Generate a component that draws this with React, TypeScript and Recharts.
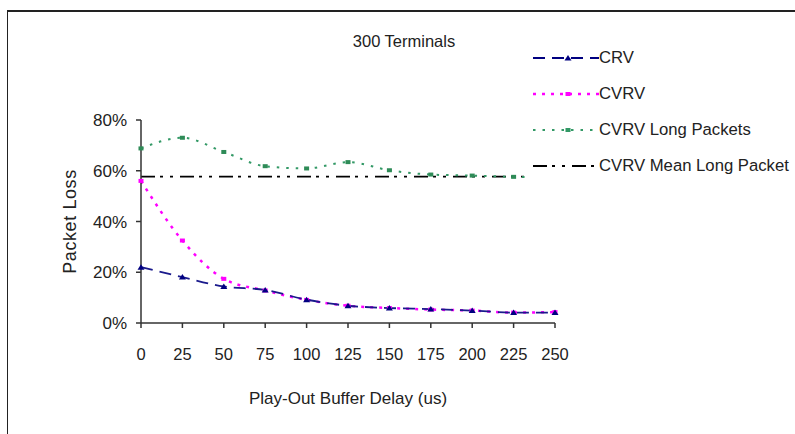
import React from 'react';
import { LineChart, Line, XAxis, YAxis, ReferenceLine } from 'recharts';

const delays = [0, 25, 50, 75, 100, 125, 150, 175, 200, 225, 250];
const crv = [22.0, 18.1, 14.4, 13.0, 9.2, 6.8, 5.9, 5.5, 4.9, 4.1, 4.1];
const cvrv = [56.0, 32.5, 17.4, 12.8, 9.1, 6.8, 5.9, 5.3, 4.9, 4.1, 4.3];
const cvrvLong = [68.8, 73.0, 67.4, 61.8, 60.9, 63.4, 60.2, 58.5, 58.1, 57.6, 57.4];
const meanLongPacket = 57.7;
const yTicks = [0, 20, 40, 60, 80];

const data = delays.map((d, i) => ({
  delay: d,
  crv: crv[i],
  cvrv: cvrv[i],
  cvrvLong: cvrvLong[i],
}));

const FONT = '"Liberation Sans", Arial, sans-serif';

const Triangle = (props: any) => {
  const { cx, cy, fill } = props;
  if (cx == null || cy == null) return null;
  return <path d={`M${cx - 3.5},${cy + 2.5} L${cx},${cy - 3} L${cx + 3.5},${cy + 2.5} Z`} fill={fill} />;
};

const Square = (props: any) => {
  const { cx, cy, fill } = props;
  if (cx == null || cy == null) return null;
  return <rect x={cx - 2.5} y={cy - 2} width={5} height={4} fill={fill} />;
};

const legendItems = [
  { name: 'CRV', color: '#000080', dash: '12 7', width: 1.8, marker: 'tri' },
  { name: 'CVRV', color: '#FF00FF', dash: '3 6', width: 2.5, marker: 'sq' },
  { name: 'CVRV Long Packets', color: '#339966', dash: '2.5 7', width: 2, marker: 'sq' },
  { name: 'CVRV Mean Long Packet', color: '#000000', dash: '14 5 3 7 3 7', width: 1.8, marker: null },
];

const YLabel = (props: any) => {
  const cy = props.viewBox ? props.viewBox.y + props.viewBox.height / 2 : 221;
  return (
    <text
      x={70}
      y={cy}
      transform={`rotate(-90, 70, ${cy})`}
      textAnchor="middle"
      dominantBaseline="central"
      fontSize={18}
      letterSpacing={0.6}
      fontFamily={FONT}
      fill="#222"
    >
      Packet Loss
    </text>
  );
};

export default function App() {
  return (
    <div
      style={{
        position: 'absolute',
        left: 0,
        top: 0,
        width: 795,
        height: 434,
        background: '#fff',
        overflow: 'hidden',
        fontFamily: FONT,
      }}
    >
      {/* frame */}
      <div
        style={{
          position: 'absolute',
          left: 7,
          top: 10,
          width: 800,
          height: 440,
          borderLeft: '1.5px solid #222',
          borderTop: '2px solid #222',
        }}
      />
      <LineChart
        width={795}
        height={434}
        data={data}
        margin={{ top: 120, right: 240, left: 0, bottom: 0 }}
      >
        <XAxis
          dataKey="delay"
          type="number"
          domain={[0, 250]}
          ticks={delays}
          height={111}
          tickSize={5}
          tickMargin={20}
          stroke="#333"
          strokeWidth={1.5}
          tick={{ fill: '#222', fontSize: 16.5, fontFamily: FONT }}
          label={{
            value: 'Play-Out Buffer Delay (us)',
            position: 'insideBottom',
            offset: 30,
            fill: '#222',
            fontSize: 17,
            fontFamily: FONT,
          }}
        />
        <YAxis
          type="number"
          domain={[0, 80]}
          ticks={yTicks}
          width={141}
          tickSize={5}
          tickMargin={9}
          stroke="#333"
          strokeWidth={1.5}
          tickFormatter={(v: number) => `${v}%`}
          tick={{ fill: '#222', fontSize: 17, fontFamily: FONT }}
          label={<YLabel />}
        />
        <ReferenceLine
          y={meanLongPacket}
          stroke="#000"
          strokeWidth={1.8}
          strokeDasharray="14 5 3 7 3 7"
          ifOverflow="extendDomain"
        />
        <Line
          type="monotone"
          dataKey="cvrvLong"
          stroke="#339966"
          strokeWidth={2}
          strokeDasharray="2.5 7"
          dot={<Square fill="#2E8B57" />}
          isAnimationActive={false}
        />
        <Line
          type="monotone"
          dataKey="cvrv"
          stroke="#FF00FF"
          strokeWidth={2.5}
          strokeDasharray="3 6"
          dot={<Square fill="#FF00FF" />}
          isAnimationActive={false}
        />
        <Line
          type="monotone"
          dataKey="crv"
          stroke="#1a1a8c"
          strokeWidth={1.8}
          strokeDasharray="12 7"
          dot={<Triangle fill="#000080" />}
          isAnimationActive={false}
        />
      </LineChart>
      {/* title */}
      <div
        style={{
          position: 'absolute',
          left: 300,
          width: 208,
          top: 31,
          textAlign: 'center',
          fontSize: 16.5,
          color: '#222',
          lineHeight: '20px',
        }}
      >
        300 Terminals
      </div>
      {/* legend */}
      <div
        style={{
          position: 'absolute',
          left: 527,
          top: 40,
          width: 268,
          height: 146,
          background: '#fff',
        }}
      >
        {legendItems.map((it) => (
          <div
            key={it.name}
            style={{ display: 'flex', alignItems: 'center', height: 36, paddingLeft: 6 }}
          >
            <svg width={66} height={10} style={{ flex: 'none' }}>
              <line
                x1={0}
                y1={5}
                x2={66}
                y2={5}
                stroke={it.color}
                strokeWidth={it.width}
                strokeDasharray={it.dash}
              />
              {it.marker === 'tri' && (
                <path d="M31.5,7.5 L35,2 L38.5,7.5 Z" fill={it.color} />
              )}
              {it.marker === 'sq' && <rect x={32.5} y={3} width={5} height={4} fill={it.color} />}
            </svg>
            <span style={{ fontSize: 16.7, color: '#222', whiteSpace: 'nowrap' }}>{it.name}</span>
          </div>
        ))}
      </div>
    </div>
  );
}
